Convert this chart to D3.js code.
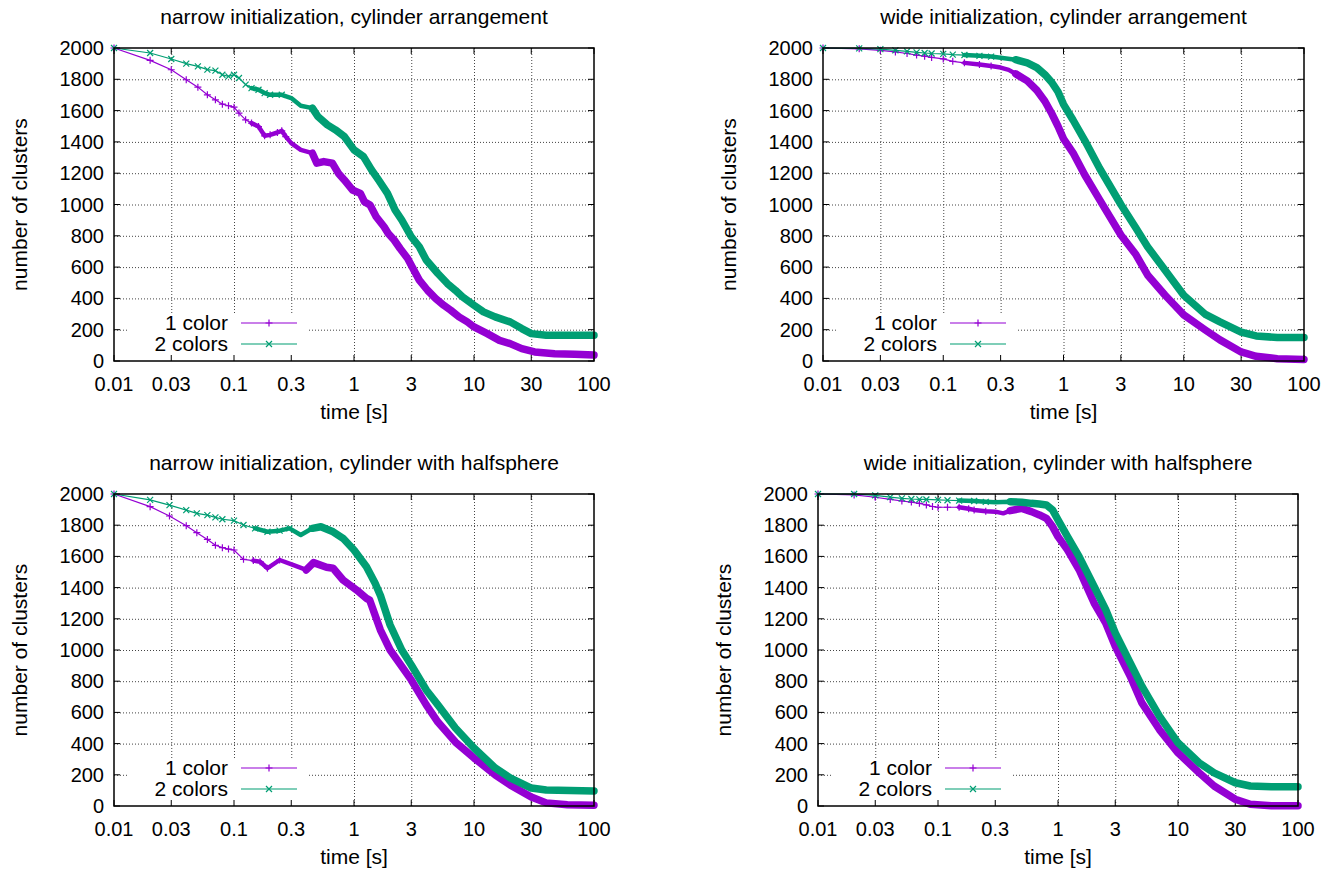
<!DOCTYPE html>
<html>
<head>
<meta charset="utf-8">
<script src="https://cdn.jsdelivr.net/npm/d3@7"></script>
<style>
body { margin: 0; background: #fff; }
text { font-family: "Liberation Sans", Arial, sans-serif; fill: #000; }
</style>
</head>
<body>
<script>
// tick values and labels
const xTicks = [0.01, 0.03, 0.1, 0.3, 1, 3, 10, 30, 100];
const xTickLabels = ["0.01", "0.03", "0.1", "0.3", "1", "3", "10", "30", "100"];
const yTicks = [0, 200, 400, 600, 800, 1000, 1200, 1400, 1600, 1800, 2000];
const seriesNames = ["1 color", "2 colors"];

const titles = [
    "narrow initialization, cylinder arrangement",
    "wide initialization, cylinder arrangement",
    "narrow initialization, cylinder with halfsphere",
    "wide initialization, cylinder with halfsphere"
];

// [time, clusters]
const narrowCyl1 = [[0.01,2000],[0.02,1921],[0.03,1861],[0.04,1797],[0.05,1750],[0.06,1701],[0.07,1669],[0.08,1641],[0.09,1631],[0.1,1622],[0.11,1584],[0.125,1541],[0.14,1520],[0.16,1498],[0.18,1439],[0.2,1445],[0.23,1460],[0.25,1471],[0.27,1434],[0.3,1392],[0.36,1349],[0.45,1328],[0.49,1264],[0.56,1274],[0.66,1264],[0.74,1200],[0.83,1157],[0.97,1093],[1.13,1071],[1.22,1018],[1.36,997],[1.53,922],[1.78,858],[1.93,815],[2.16,773],[2.42,719],[2.8,655],[3.15,581],[3.5,517],[4.1,452],[4.8,399],[5.6,356],[6.4,324],[7.5,282],[8.8,250],[10,218],[12.9,175],[16.3,132],[20,111],[25,79],[32,58],[47,47],[69,43],[100,38]];
const narrowCyl2 = [[0.01,2000],[0.02,1968],[0.03,1930],[0.04,1900],[0.05,1883],[0.06,1862],[0.07,1855],[0.08,1829],[0.09,1819],[0.1,1829],[0.11,1808],[0.125,1766],[0.14,1744],[0.16,1733],[0.18,1712],[0.2,1701],[0.25,1701],[0.3,1680],[0.36,1631],[0.45,1616],[0.5,1562],[0.6,1509],[0.7,1477],[0.83,1434],[1,1349],[1.2,1306],[1.4,1221],[1.6,1157],[1.9,1071],[2.2,965],[2.5,901],[3,794],[3.5,730],[4,645],[5,559],[6,495],[7,452],[8,410],[10,356],[12,314],[15,282],[20,250],[25,207],[30,175],[40,164],[60,164],[100,164]];
const wideCyl1 = [[0.01,2000],[0.02,1995],[0.03,1985],[0.04,1975],[0.05,1965],[0.06,1955],[0.07,1948],[0.08,1940],[0.1,1930],[0.12,1915],[0.15,1905],[0.2,1895],[0.25,1885],[0.3,1875],[0.35,1860],[0.4,1835],[0.5,1790],[0.6,1730],[0.7,1660],[0.8,1580],[0.9,1500],[1,1420],[1.2,1330],[1.5,1190],[2,1030],[3,805],[4,680],[5,550],[7,420],[10,295],[15,200],[20,135],[30,58],[40,30],[60,15],[100,10]];
const wideCyl2 = [[0.01,2000],[0.02,1998],[0.03,1993],[0.04,1985],[0.05,1978],[0.06,1972],[0.07,1968],[0.08,1965],[0.1,1962],[0.12,1958],[0.15,1955],[0.2,1950],[0.25,1945],[0.3,1938],[0.4,1925],[0.5,1905],[0.6,1875],[0.7,1830],[0.8,1780],[0.9,1720],[1,1640],[1.2,1540],[1.5,1410],[2,1230],[3,1000],[4,850],[5,730],[7,580],[10,420],[15,300],[20,250],[30,185],[40,160],[60,150],[100,150]];
const narrowHalf1 = [[0.01,2000],[0.02,1919],[0.029,1859],[0.04,1797],[0.049,1752],[0.06,1709],[0.07,1671],[0.08,1656],[0.09,1647],[0.1,1641],[0.12,1581],[0.145,1573],[0.165,1566],[0.19,1524],[0.24,1577],[0.31,1545],[0.4,1513],[0.46,1560],[0.59,1530],[0.67,1524],[0.81,1449],[1.05,1385],[1.27,1331],[1.35,1320],[1.66,1128],[2,1000],[3,808],[4,648],[5,538],[7,410],[10,308],[15,200],[20,135],[30,58],[40,20],[60,8],[100,5]];
const narrowHalf2 = [[0.01,2000],[0.02,1962],[0.029,1929],[0.04,1897],[0.049,1876],[0.06,1865],[0.07,1850],[0.08,1838],[0.1,1829],[0.12,1801],[0.15,1780],[0.19,1758],[0.24,1765],[0.29,1780],[0.36,1737],[0.45,1780],[0.53,1790],[0.67,1758],[0.81,1716],[1,1641],[1.27,1534],[1.5,1428],[1.66,1350],[2,1160],[2.5,1000],[3,904],[4,744],[5,648],[7,500],[10,372],[15,244],[20,180],[30,115],[40,102],[100,96]];
const wideHalf1 = [[0.01,2000],[0.02,1994],[0.03,1979],[0.04,1965],[0.05,1955],[0.06,1948],[0.07,1940],[0.08,1930],[0.09,1920],[0.1,1915],[0.12,1915],[0.15,1915],[0.18,1905],[0.2,1898],[0.25,1890],[0.3,1887],[0.35,1876],[0.4,1893],[0.5,1908],[0.6,1887],[0.7,1866],[0.8,1844],[0.9,1791],[1,1727],[1.2,1642],[1.5,1514],[2,1301],[2.5,1173],[3,1023],[4,832],[5,661],[7,490],[10,341],[15,213],[20,128],[30,43],[40,11],[60,2],[100,2]];
const wideHalf2 = [[0.01,2000],[0.02,2000],[0.03,1991],[0.04,1980],[0.05,1972],[0.06,1968],[0.07,1966],[0.08,1965],[0.1,1962],[0.12,1960],[0.15,1958],[0.2,1955],[0.25,1950],[0.3,1947],[0.4,1951],[0.5,1947],[0.6,1940],[0.7,1936],[0.8,1930],[0.9,1898],[1,1834],[1.2,1727],[1.5,1599],[2,1407],[2.5,1258],[3,1109],[4,917],[5,768],[7,576],[10,405],[15,277],[20,213],[30,149],[40,128],[60,124],[100,124]];

const colors = ["#9400d3", "#009e73"];

const panels = [
    {title: titles[0], s1: narrowCyl1, s2: narrowCyl2, left: 114, right: 594, top: 48, bottom: 361, ylab: 20},
    {title: titles[1], s1: wideCyl1, s2: wideCyl2, left: 823, right: 1304, top: 48, bottom: 361, ylab: 729},
    {title: titles[2], s1: narrowHalf1, s2: narrowHalf2, left: 114, right: 594, top: 494, bottom: 806, ylab: 20},
    {title: titles[3], s1: wideHalf1, s2: wideHalf2, left: 818, right: 1298, top: 494, bottom: 806, ylab: 724}
];

let svg = d3.select("body").append("svg")
    .attr("width", 1333)
    .attr("height", 876);

function plusPath(s) { return `M${-s},0H${s}M0,${-s}V${s}`; }
function crossPath(s) { return `M${-s},${-s}L${s},${s}M${-s},${s}L${s},${-s}`; }

function drawPanel(p) {
    let x = d3.scaleLog().domain([0.01, 100]).range([p.left, p.right]);
    let y = d3.scaleLinear().domain([0, 2000]).range([p.bottom, p.top]);
    let g = svg.append("g");

    // grid
    g.append("g")
        .attr("transform", "translate(0," + p.bottom + ")")
        .call(d3.axisBottom(x).tickValues(xTicks.slice(1, -1)).tickSize(-(p.bottom - p.top)).tickFormat(""))
        .call(a => a.select(".domain").remove())
        .selectAll("line").attr("stroke", "#444").attr("stroke-dasharray", "1,2");
    g.append("g")
        .attr("transform", "translate(" + p.left + ",0)")
        .call(d3.axisLeft(y).tickValues(yTicks.slice(1, -1)).tickSize(-(p.right - p.left)).tickFormat(""))
        .call(a => a.select(".domain").remove())
        .selectAll("line").attr("stroke", "#444").attr("stroke-dasharray", "1,2");

    // opaque key box
    g.append("rect")
        .attr("x", p.left + 13).attr("y", p.bottom - 48)
        .attr("width", 182).attr("height", 48)
        .attr("fill", "#fff");

    // tick marks, inward, mirrored
    let tb = g.append("g").attr("stroke", "#000").attr("stroke-width", 1);
    xTicks.forEach(t => {
        tb.append("line").attr("x1", x(t)).attr("x2", x(t)).attr("y1", p.bottom).attr("y2", p.bottom - 6);
        tb.append("line").attr("x1", x(t)).attr("x2", x(t)).attr("y1", p.top).attr("y2", p.top + 6);
    });
    yTicks.forEach(v => {
        tb.append("line").attr("x1", p.left).attr("x2", p.left + 6).attr("y1", y(v)).attr("y2", y(v));
        tb.append("line").attr("x1", p.right).attr("x2", p.right - 6).attr("y1", y(v)).attr("y2", y(v));
    });

    // tick labels
    g.append("g").selectAll("text").data(xTicks).join("text")
        .attr("x", d => x(d)).attr("y", p.bottom + 30)
        .attr("text-anchor", "middle").style("font-size", "20px")
        .text((d, i) => xTickLabels[i]);
    g.append("g").selectAll("text").data(yTicks).join("text")
        .attr("x", p.left - 10).attr("y", d => y(d) + 7)
        .attr("text-anchor", "end").style("font-size", "20px")
        .text(d => d);

    // labels
    g.append("text")
        .attr("x", (p.left + p.right) / 2).attr("y", p.top - 24)
        .attr("text-anchor", "middle").style("font-size", "21px")
        .text(p.title);
    g.append("text")
        .attr("x", (p.left + p.right) / 2).attr("y", p.bottom + 58)
        .attr("text-anchor", "middle").style("font-size", "21px")
        .text("time [s]");
    g.append("text")
        .attr("transform", "translate(" + (p.ylab + 7) + "," + ((p.top + p.bottom) / 2) + ") rotate(-90)")
        .attr("text-anchor", "middle").style("font-size", "21px")
        .text("number of clusters");

    // data: thin line with markers where samples are sparse,
    // a thick band where the markers pile up
    let line = d3.line().x(d => x(d[0])).y(d => y(d[1]));
    [p.s1, p.s2].forEach((s, k) => {
        let c = colors[k];
        g.append("path").datum(s)
            .attr("fill", "none").attr("stroke", c).attr("stroke-width", 1.2)
            .attr("d", line);
        g.append("path").datum(s.filter(d => d[0] >= 0.14))
            .attr("fill", "none").attr("stroke", c).attr("stroke-width", 4.5)
            .attr("stroke-linejoin", "round").attr("stroke-linecap", "round")
            .attr("d", line);
        g.append("path").datum(s.filter(d => d[0] >= 0.4))
            .attr("fill", "none").attr("stroke", c).attr("stroke-width", 7.5)
            .attr("stroke-linejoin", "round").attr("stroke-linecap", "round")
            .attr("d", line);
        g.append("g").selectAll("path").data(s.filter(d => d[0] < 0.3)).join("path")
            .attr("transform", d => "translate(" + x(d[0]) + "," + y(d[1]) + ")")
            .attr("d", k === 0 ? plusPath(3.5) : crossPath(3))
            .attr("stroke", c).attr("stroke-width", 1.2).attr("fill", "none");
    });

    // border
    g.append("rect")
        .attr("x", p.left).attr("y", p.top)
        .attr("width", p.right - p.left).attr("height", p.bottom - p.top)
        .attr("fill", "none").attr("stroke", "#000").attr("stroke-width", 1.5);

    // key
    seriesNames.forEach((name, k) => {
        let ky = p.bottom - 38 + k * 21;
        g.append("text")
            .attr("x", p.left + 114).attr("y", ky + 7)
            .attr("text-anchor", "end").style("font-size", "21px")
            .text(name);
        g.append("line")
            .attr("x1", p.left + 127).attr("x2", p.left + 183)
            .attr("y1", ky).attr("y2", ky)
            .attr("stroke", colors[k]).attr("stroke-width", 1.2);
        g.append("path")
            .attr("transform", "translate(" + (p.left + 155) + "," + ky + ")")
            .attr("d", k === 0 ? plusPath(3.5) : crossPath(3))
            .attr("stroke", colors[k]).attr("stroke-width", 1.2).attr("fill", "none");
    });
}

panels.forEach(drawPanel);
</script>
</body>
</html>
